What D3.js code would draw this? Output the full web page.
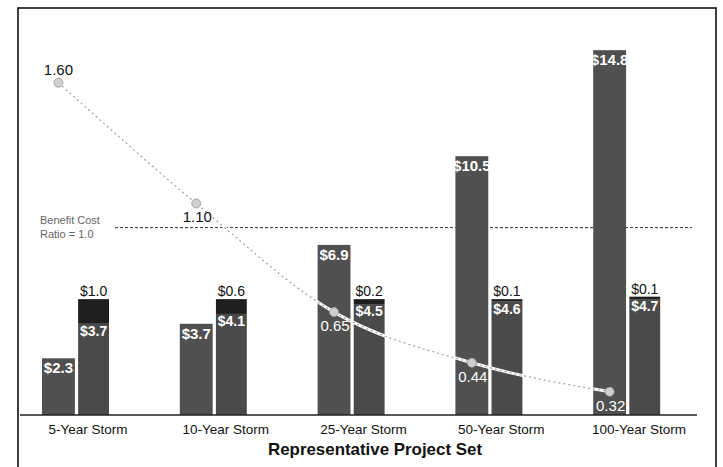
<!DOCTYPE html>
<html>
<head>
<meta charset="utf-8">
<script src="https://cdn.jsdelivr.net/npm/d3@7"></script>
<style>
  html, body { margin: 0; padding: 0; background: #fff; }
  svg { display: block; }
</style>
</head>
<body>
<svg id="viz" width="723" height="467"></svg>
<script>
// storm project set: benefit bar, stacked cost bar, and benefit/cost ratio line

const categories = ["5-Year Storm", "10-Year Storm", "25-Year Storm", "50-Year Storm", "100-Year Storm"];
const benefits = [2.3, 3.7, 6.9, 10.5, 14.8];
const costBase = [3.7, 4.1, 4.5, 4.6, 4.7];
const costTop = [1.0, 0.6, 0.2, 0.1, 0.1];
const ratios = [1.60, 1.10, 0.65, 0.44, 0.32];
const ratioLabels = ["1.60", "1.10", "0.65", "0.44", "0.32"];
const thresholdRatio = 1.0;

const svg = d3.select("#viz");
const regular = "'Liberation Sans', Arial, sans-serif";

const baseY = 415;

// scales
const x = d3.scaleBand().domain(categories).range([8, 697]).paddingInner(0);
const x1 = d3.scaleBand().domain(["benefit", "cost"]).range([34, 103]).paddingInner(0.09);
const y = d3.scaleLinear().domain([0, 15]).range([baseY, baseY - 15 * 24.65]);
const yR = d3.scaleLinear().domain([0, 1.6]).range([469, 469 - 1.6 * 241.4]);

// frame
svg.append("rect")
  .attr("x", 18).attr("y", 8).attr("width", 698).attr("height", 470)
  .attr("fill", "none").attr("stroke", "#111").attr("stroke-width", 1.6);

// threshold dashed line (ratio = 1.0)
svg.append("line")
  .attr("x1", 115).attr("x2", 692)
  .attr("y1", yR(thresholdRatio)).attr("y2", yR(thresholdRatio))
  .attr("stroke", "#333").attr("stroke-width", 1).attr("stroke-dasharray", "3,2");

const thr = svg.append("text").attr("font-family", regular).attr("font-size", 11).attr("fill", "#666");
thr.append("tspan").attr("x", 40).attr("y", yR(thresholdRatio) - 4).text("Benefit Cost");
thr.append("tspan").attr("x", 40).attr("y", yR(thresholdRatio) + 10).text("Ratio = 1.0");

// bars
const groups = svg.append("g").selectAll("g")
  .data(categories)
  .join("g")
  .attr("transform", d => `translate(${x(d)},0)`);

groups.append("rect")
  .attr("x", x1("benefit"))
  .attr("width", x1.bandwidth())
  .attr("y", (d, i) => y(benefits[i]))
  .attr("height", (d, i) => y(0) - y(benefits[i]))
  .attr("fill", "#505050");

groups.append("rect")
  .attr("x", x1("cost"))
  .attr("width", x1.bandwidth() - 2)
  .attr("y", (d, i) => y(costBase[i]))
  .attr("height", (d, i) => y(0) - y(costBase[i]))
  .attr("fill", "#4a4a4a");

groups.append("rect")
  .attr("x", x1("cost"))
  .attr("width", x1.bandwidth() - 2)
  .attr("y", (d, i) => y(costBase[i] + costTop[i]))
  .attr("height", (d, i) => y(costBase[i]) - y(costBase[i] + costTop[i]))
  .attr("fill", "#1e1e1e");

// x axis line
svg.append("line")
  .attr("x1", 20).attr("x2", 697).attr("y1", baseY).attr("y2", baseY)
  .attr("stroke", "#222").attr("stroke-width", 1.6);

// ratio line
const lineGen = d3.line()
  .x((d, i) => x(categories[i]) + x1("benefit") + x1.bandwidth() / 2)
  .y(d => yR(d))
  .curve(d3.curveMonotoneX);

svg.append("path").datum(ratios)
  .attr("d", lineGen).attr("fill", "none")
  .attr("stroke", "#fff").attr("stroke-width", 3);
svg.append("path").datum(ratios)
  .attr("d", lineGen).attr("fill", "none")
  .attr("stroke", "#999").attr("stroke-width", 1.1).attr("stroke-dasharray", "2,3");

svg.append("g").selectAll("circle")
  .data(ratios)
  .join("circle")
  .attr("cx", (d, i) => x(categories[i]) + x1("benefit") + x1.bandwidth() / 2)
  .attr("cy", d => yR(d))
  .attr("r", 4.5)
  .attr("fill", "#cfcfcf").attr("stroke", "#999").attr("stroke-width", 0.8);

// value labels
groups.append("text")
  .attr("x", x1("benefit") + x1.bandwidth() / 2)
  .attr("y", (d, i) => y(benefits[i]) + 15)
  .attr("text-anchor", "middle")
  .attr("font-family", regular).attr("font-weight", "bold").attr("font-size", 15)
  .attr("fill", "#fff")
  .text((d, i) => "$" + benefits[i].toFixed(1));

groups.append("text")
  .attr("x", x1("cost") + x1.bandwidth() / 2 - 1)
  .attr("y", (d, i) => y(costBase[i]) + 12)
  .attr("text-anchor", "middle")
  .attr("font-family", regular).attr("font-weight", "bold").attr("font-size", 14)
  .attr("fill", "#fff")
  .text((d, i) => "$" + costBase[i].toFixed(1));

groups.append("text")
  .attr("x", x1("cost") + x1.bandwidth() / 2 - 1)
  .attr("y", (d, i) => y(costBase[i] + costTop[i]) - 3)
  .attr("text-anchor", "middle")
  .attr("font-family", regular).attr("font-size", 14)
  .attr("fill", "#111")
  .text((d, i) => "$" + costTop[i].toFixed(1));

// ratio labels: first above the point, others below
svg.append("g").selectAll("text")
  .data(ratios)
  .join("text")
  .attr("x", (d, i) => x(categories[i]) + x1("benefit") + x1.bandwidth() / 2 + (i === 0 ? 0 : 1))
  .attr("y", (d, i) => i === 0 ? yR(d) - 8 : yR(d) + 19)
  .attr("text-anchor", "middle")
  .attr("font-family", regular).attr("font-size", 15)
  .attr("fill", (d, i) => i < 2 ? "#111" : "#fff")
  .text((d, i) => ratioLabels[i]);

// category labels
svg.append("g").selectAll("text")
  .data(categories)
  .join("text")
  .attr("x", d => x(d) + x.bandwidth() / 2 + 11)
  .attr("y", 434)
  .attr("text-anchor", "middle")
  .attr("font-family", regular).attr("font-size", 13.5)
  .attr("fill", "#111")
  .text(d => d);

// axis title
svg.append("text")
  .attr("x", 375).attr("y", 455)
  .attr("text-anchor", "middle")
  .attr("font-family", regular).attr("font-weight", "bold").attr("font-size", 17)
  .attr("textLength", 214).attr("lengthAdjust", "spacingAndGlyphs")
  .attr("fill", "#111")
  .text("Representative Project Set");
</script>
</body>
</html>
